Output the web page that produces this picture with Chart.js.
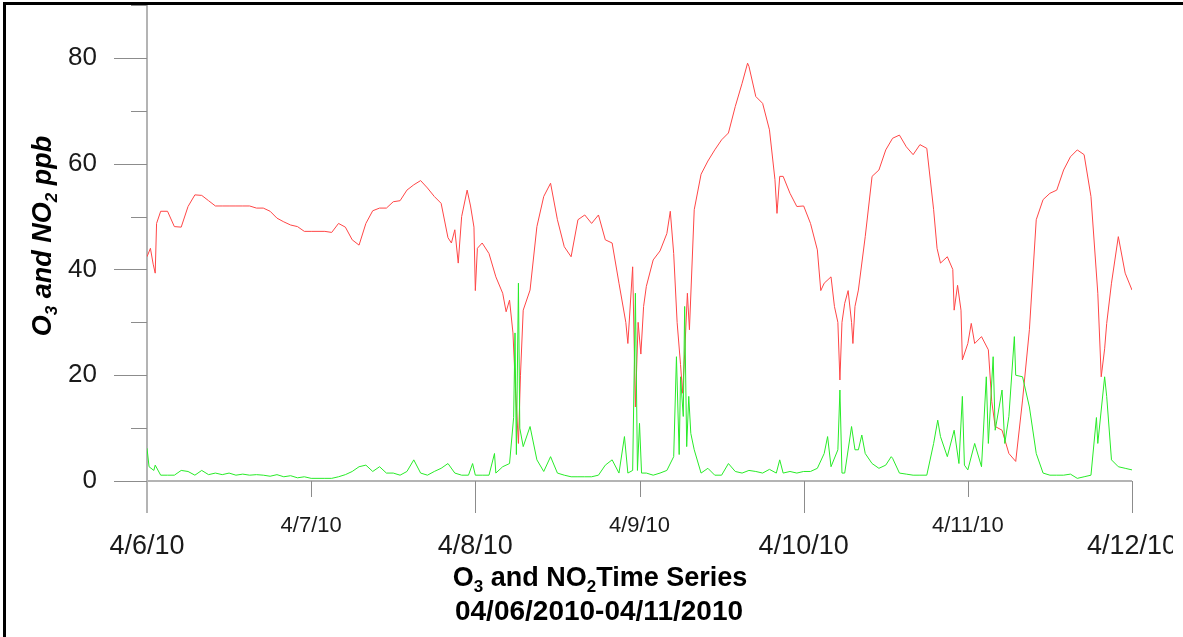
<!DOCTYPE html>
<html>
<head>
<meta charset="utf-8">
<style>
html,body{margin:0;padding:0;background:#fff;}
#wrap{width:1183px;height:637px;position:relative;}
</style>
<script src="https://cdn.jsdelivr.net/npm/chart.js@4.4.0/dist/chart.umd.min.js"></script>
</head>
<body>
<div id="wrap"><canvas id="c" width="1183" height="637"></canvas></div>
<script>
// ---- data (hours since 4/6/10 00:00) ----
const xTickLabels = ['4/6/10','4/7/10','4/8/10','4/9/10','4/10/10','4/11/10','4/12/10'];
const xTickHours = [0,24,48,72,96,120,144];
const yMajorTicks = [0,20,40,60,80];
const yMinorTicks = [10,30,50,70,90];

const o3Hours = [0,0.5,0.9,1.2,1.4,2,3,4,5,6,7,8,9,10,11,12,13,14,15,16,17,18,19,20,21,22,23,24,25,26,27,28,29,30,31,32,33,34,35,36,37,38,39,40,41,42,43,44,44.5,45,45.5,46,46.8,47.3,47.8,48,48.3,49,50,51,52,52.5,53,53.5,53.9,54.3,54.6,55,56,57,58,59,60,61,62,63,64,65,66,67,68,69,70,70.3,71,71.4,71.8,72.2,72.6,73,74,75,76,76.5,77,77.5,78,78.3,78.6,79,79.3,80,81,82,83,84,85,86,87,87.8,88,89,90,91,91.8,92.1,92.5,93,94,95,96,97,98,98.5,99,100,100.5,101,101.3,101.6,102,102.5,103,103.2,103.5,104,105,106,107,108,109,110,111,112,113,114,115,115.5,116,117,117.8,118,118.5,119,119.2,120,120.5,121,122,123,123.5,124,125,126,127,128,129,130,131,132,133,134,135,136,137,138,139,139.5,140,140.3,141,142,143,144];
const o3Values = [42.4,44,41,39.3,48.7,51,51,48.1,48,51.9,54.1,54,53,52,52,52,52,52,52,51.6,51.6,51,49.7,49,48.4,48.1,47.2,47.2,47.2,47.2,47,48.7,48,45.6,44.6,48.7,51.1,51.6,51.6,52.8,53,55,56,56.8,55.4,53.8,52.5,46,45,47.5,41.2,50,55,52,48,36,44,45,43,38.6,35.5,32,34.2,28,16.6,7.1,20,32.3,36.1,48.1,53.8,56.3,49.4,44.3,42.4,49.4,50.3,48.7,50.3,45.6,45,37.4,30,26,40.5,14,30,24,33,36.8,41.8,43.5,46.8,51,43,30,22,16.6,24,35.5,28.6,51.3,58,60.5,62.6,64.5,65.8,70.8,75.2,79,78.4,72.7,71.4,66.4,57,50.6,57.6,57.6,54.4,51.9,52,48.7,43.7,36,37.4,38.6,33,30,19.1,30,33.6,36,30,26,33,36.1,46.2,57.6,58.8,62.6,64.8,65.4,63.2,61.7,63.6,62.9,51.3,44,41.2,42.4,40,32.3,37,32.3,22.9,26,29.8,26,27.3,24.8,15,10.3,9.6,5.2,3.7,15.3,28.6,49.4,53.2,54.4,55,58.8,61.3,62.6,61.7,53.8,35.5,19.7,25,29.8,37.4,46.2,39.3,36.1];

const no2Hours = [0,0.3,1,1.2,2,3,4,5,6,7,8,9,10,11,12,13,14,15,16,17,18,19,20,21,22,23,24,25,26,27,28,29,30,31,32,33,34,35,36,37,38,39,40,41,42,43,44,45,46,47,47.6,48,49,50,50.8,51,52,53,53.6,53.8,54,54.3,54.5,55,56,57,58,59,60,61,62,63,64,65,66,67,68,69,69.8,70.3,71,71.4,71.7,72,72.3,73,74,75,76,77,77.4,77.8,78,78.4,78.6,78.9,79.2,79.5,80,81,82,83,84,85,86,87,88,89,90,91,92,92.5,93,94,95,96,97,98,99,99.5,100,101,101.3,101.6,102,103,103.5,104,104.5,105,106,107,108,108.8,109,110,111,112,113,114,115,115.6,116,117,118,118.7,119.2,119.5,120,121,122,122.7,123,123.7,124,125,125.4,126,126.8,127,128,129,130,131,132,133,134,135,136,137,138,138.8,139,140,140.3,141,142,143,144];
const no2Values = [6.2,2.7,2,3,1.1,1.1,1.1,2,1.8,1.1,2,1.2,1.5,1.2,1.5,1.1,1.3,1.1,1.2,1.1,0.9,1.2,0.8,1,0.6,0.8,0.5,0.5,0.5,0.5,0.8,1.2,1.8,2.7,3,1.8,2.7,1.5,1.5,1.1,1.8,4,1.5,1.1,1.8,2.4,3.3,1.5,1.1,1.1,3.3,1.1,1.1,1.1,5.2,1.5,2.7,3.3,12,28,5,37.4,10,6.5,10.3,4,1.8,4.6,1.5,1.1,0.8,0.8,0.8,0.8,1.1,3,4,1.5,8.4,1.5,2,35.5,2,10.9,1.5,1.5,1.1,1.5,2,4.6,23.5,5,19.7,12.2,33,6.5,16,9,5.9,1.5,2.4,1.1,1.1,3.3,1.8,1.5,2,1.8,1.5,2.2,1.5,4,1.5,1.8,1.5,1.8,1.8,2.4,5.2,8.4,2.7,5.9,17.2,1.5,1.5,10.3,5.9,5.9,8.7,5.2,3.3,2.4,3,4.6,4.3,1.5,1.3,1.1,1.1,1.1,7.1,11.5,8.4,4.6,9.6,3.3,16,3,2.1,7.1,2.7,19.7,7.1,23.5,9.6,17.2,7.1,12.2,27.3,20,19.7,14,5.2,1.5,1.1,1.1,1.1,1.3,0.5,0.8,1.1,12,7.1,19.7,16,4,2.7,2.4,2.1];

const FONT = '"Liberation Sans", Arial, Helvetica, sans-serif';

function richWidth(ctx, segs, size, style) {
  let w = 0;
  for (const s of segs) {
    ctx.font = style + ' ' + (s.sub ? Math.round(size*0.62) : size) + 'px ' + FONT;
    w += ctx.measureText(s.t).width;
  }
  return w;
}
function drawRich(ctx, segs, cx, cy, size, style) {
  const w = richWidth(ctx, segs, size, style);
  let x = cx - w/2;
  ctx.textAlign = 'left';
  ctx.textBaseline = 'middle';
  for (const s of segs) {
    const fs = s.sub ? Math.round(size*0.62) : size;
    ctx.font = style + ' ' + fs + 'px ' + FONT;
    ctx.fillText(s.t, x, s.sub ? cy + size*0.3 : cy);
    x += ctx.measureText(s.t).width;
  }
}

const axesPlugin = {
  id: 'axesPlugin',
  beforeDatasetsDraw(chart) {
    const ctx = chart.ctx, xs = chart.scales.x, ys = chart.scales.y;
    const x0 = xs.getPixelForValue(0), x1 = xs.getPixelForValue(144);
    const y0 = ys.getPixelForValue(0), yTop = ys.getPixelForValue(90);
    ctx.save();
    ctx.strokeStyle = '#b4b4b4';
    ctx.lineWidth = 2;
    ctx.beginPath();
    ctx.moveTo(x0, yTop); ctx.lineTo(x0, y0 + 32);
    ctx.moveTo(x0, y0); ctx.lineTo(x1, y0);
    ctx.stroke();
    ctx.strokeStyle = '#8c8c8c';
    ctx.lineWidth = 1;
    ctx.beginPath();
    for (const v of yMajorTicks) { const y = Math.round(ys.getPixelForValue(v)) + 0.5; ctx.moveTo(x0 - 33, y); ctx.lineTo(x0, y); }
    for (const v of yMinorTicks) { const y = Math.round(ys.getPixelForValue(v)) + 0.5; ctx.moveTo(x0 - 16, y); ctx.lineTo(x0, y); }
    xTickHours.forEach((h, i) => {
      if (i === 0) return;
      const x = Math.round(xs.getPixelForValue(h)) + 0.5;
      ctx.moveTo(x, y0); ctx.lineTo(x, y0 + (i % 2 === 0 ? 32 : 16));
    });
    ctx.stroke();
    ctx.restore();
  },
  afterDraw(chart) {
    const ctx = chart.ctx, xs = chart.scales.x, ys = chart.scales.y;
    ctx.save();
    ctx.fillStyle = '#1a1a1a';
    // y tick labels
    ctx.font = '26px ' + FONT;
    ctx.textAlign = 'right';
    ctx.textBaseline = 'middle';
    for (const v of yMajorTicks) ctx.fillText(String(v), 97, ys.getPixelForValue(v));
    // x tick labels (clipped at the right like the source image)
    ctx.save();
    ctx.beginPath();
    ctx.rect(0, 0, 1173, 637);
    ctx.clip();
    ctx.textAlign = 'center';
    xTickHours.forEach((h, i) => {
      const x = xs.getPixelForValue(h);
      if (i % 2 === 0) { ctx.font = '27px ' + FONT; ctx.fillText(xTickLabels[i], x, 547); }
      else { ctx.font = '22px ' + FONT; ctx.fillText(xTickLabels[i], x, 526); }
    });
    ctx.restore();
    // x title
    ctx.fillStyle = '#000';
    drawRich(ctx, [{t:'O'},{t:'3',sub:true},{t:' and NO'},{t:'2',sub:true},{t:'Time Series'}], 600, 579, 27, 'bold');
    ctx.font = 'bold 28px ' + FONT;
    ctx.textAlign = 'center';
    ctx.fillText('04/06/2010-04/11/2010', 599, 612);
    // y title
    ctx.save();
    ctx.translate(44, 236);
    ctx.rotate(-Math.PI/2);
    drawRich(ctx, [{t:'O'},{t:'3',sub:true},{t:' and NO'},{t:'2',sub:true},{t:' ppb'}], 0, 0, 27, 'italic bold');
    ctx.restore();
    // frame
    ctx.fillStyle = '#000';
    ctx.fillRect(3, 2, 1180, 3);
    ctx.fillRect(3, 2, 3, 635);
    ctx.restore();
  }
};

new Chart(document.getElementById('c'), {
  type: 'line',
  data: {
    datasets: [
      { label: 'NO2', data: no2Hours.map((h, i) => ({x: h, y: no2Values[i]})), borderColor: 'rgb(40,235,40)', borderWidth: 1, pointRadius: 0, tension: 0, fill: false },
      { label: 'O3', data: o3Hours.map((h, i) => ({x: h, y: o3Values[i]})), borderColor: 'rgb(255,70,70)', borderWidth: 1, pointRadius: 0, tension: 0, fill: false }
    ]
  },
  options: {
    responsive: false,
    animation: false,
    events: [],
    layout: { padding: { left: 147, right: 51, top: 5, bottom: 156 } },
    plugins: { legend: { display: false }, tooltip: { enabled: false } },
    scales: {
      x: { type: 'linear', min: 0, max: 144, display: false },
      y: { type: 'linear', min: 0, max: 90, display: false }
    }
  },
  plugins: [axesPlugin]
});
</script>
</body>
</html>
